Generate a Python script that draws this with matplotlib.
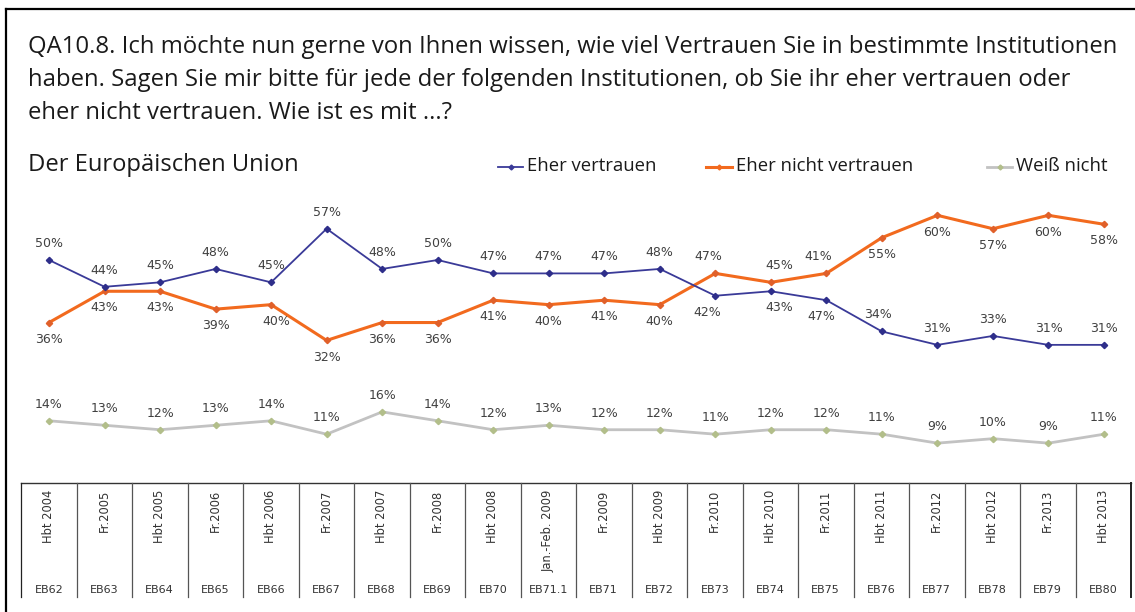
import matplotlib
matplotlib.use("Agg")
import matplotlib.pyplot as plt
from matplotlib.lines import Line2D

# ---------------------------------------------------------
# Data (Eurobarometer, trust in the EU)
# ---------------------------------------------------------
waves = ["EB62", "EB63", "EB64", "EB65", "EB66", "EB67", "EB68", "EB69", "EB70", "EB71.1",
         "EB71", "EB72", "EB73", "EB74", "EB75", "EB76", "EB77", "EB78", "EB79", "EB80"]
periods = ["Hbt 2004", "Fr.2005", "Hbt 2005", "Fr.2006", "Hbt 2006", "Fr.2007", "Hbt 2007",
           "Fr.2008", "Hbt 2008", "Jan.-Feb. 2009", "Fr.2009", "Hbt 2009", "Fr.2010",
           "Hbt 2010", "Fr.2011", "Hbt 2011", "Fr.2012", "Hbt 2012", "Fr.2013", "Hbt 2013"]

vertrauen = [50, 44, 45, 48, 45, 57, 48, 50, 47, 47, 47, 48, 42, 43, 41, 34, 31, 33, 31, 31]
nicht_vertrauen = [36, 43, 43, 39, 40, 32, 36, 36, 41, 40, 41, 40, 47, 45, 47, 55, 60, 57, 60, 58]
weiss_nicht = [14, 13, 12, 13, 14, 11, 16, 14, 12, 13, 12, 12, 11, 12, 12, 11, 9, 10, 9, 11]

# the source chart has the EB75 labels swapped between the two lines
lab_vertrauen = [f"{v}%" for v in vertrauen]
lab_nicht = [f"{v}%" for v in nicht_vertrauen]
lab_vertrauen[14], lab_nicht[14] = lab_nicht[14], lab_vertrauen[14]
lab_weiss = [f"{v}%" for v in weiss_nicht]

# label placement: +1 above, -1 below, and small x shift (points)
pos_vertrauen = [1] * 12 + [-1, -1, -1] + [1] * 5
pos_nicht = [-1] * 12 + [1, 1, 1] + [-1] * 5
dx_vertrauen = [0] * 12 + [-6, 6, -4] + [-3, 0, 0, 0, 0]
dx_nicht = [0, 0, 0, 0, 4] + [0] * 7 + [-5, 6, -6] + [0] * 5

BLUE = "#3A3A98"
ORANGE = "#F26A1E"
GREY = "#C2C2C2"
GREY_MK = "#B2BE8A"
TXT = "#404040"
FONT = "Open Sans"

W, H = 1135, 612
fig = plt.figure(figsize=(W / 100, H / 100), dpi=100)
fig.patch.set_facecolor("white")


def fx(x):
    return x / W


def fy(y):
    return 1 - y / H


# ---------------------------------------------------------
# Outer frame (left + top only visible)
# ---------------------------------------------------------
fig.add_artist(Line2D([fx(6), fx(6)], [fy(9), 0], color="black", lw=1.6, transform=fig.transFigure))
fig.add_artist(Line2D([fx(6), 1], [fy(9), fy(9)], color="black", lw=1.6, transform=fig.transFigure))

# ---------------------------------------------------------
# Title / question text
# ---------------------------------------------------------
title_lines = [
    "QA10.8. Ich möchte nun gerne von Ihnen wissen, wie viel Vertrauen Sie in bestimmte Institutionen",
    "haben. Sagen Sie mir bitte für jede der folgenden Institutionen, ob Sie ihr eher vertrauen oder",
    "eher nicht vertrauen. Wie ist es mit ...?",
]
for i, line in enumerate(title_lines):
    fig.text(fx(28), fy(47 + 33 * i), line, family=FONT, fontsize=17.2,
             color="#1a1a1a", va="center", ha="left")
fig.text(fx(28), fy(165), "Der Europäischen Union", family=FONT, fontsize=17.1,
         color="#1a1a1a", va="center", ha="left")

# legend drawn by hand
legend_items = [("Eher vertrauen", BLUE, BLUE, 498, 523, 1.3),
                ("Eher nicht vertrauen", ORANGE, ORANGE, 706, 732, 2.2),
                ("Weiß nicht", GREY, GREY_MK, 987, 1012, 2.0)]
for name, col, mk, x1, x2, lw in legend_items:
    fig.add_artist(Line2D([fx(x1), fx((x1 + x2) / 2), fx(x2)], [fy(167)] * 3, color=col, lw=lw,
                          marker="D", markersize=2.5, markevery=[1], markerfacecolor=mk,
                          markeredgecolor=mk, transform=fig.transFigure))
    fig.text(fx(x2 + 4), fy(166), name, family=FONT, fontsize=13.3, color="#1a1a1a",
             va="center", ha="left")

# ---------------------------------------------------------
# Line chart
# ---------------------------------------------------------
# y = 65% at px 193, y = 5% at px 461; x points from px 49 to 1104
ax = fig.add_axes([fx(49), fy(461), fx(1104 - 49), (461 - 193) / H])
ax.set_xlim(0, 19)
ax.set_ylim(5, 65)
ax.axis("off")

x = list(range(len(waves)))
ax.plot(x, weiss_nicht, color=GREY, lw=2.0, marker="D", markersize=3.2,
        markerfacecolor=GREY_MK, markeredgecolor=GREY_MK, clip_on=False, zorder=2)
ax.plot(x, nicht_vertrauen, color=ORANGE, lw=2.2, marker="D", markersize=3.2,
        markerfacecolor="#E0602A", markeredgecolor="#E0602A", clip_on=False, zorder=3)
ax.plot(x, vertrauen, color=BLUE, lw=1.3, marker="D", markersize=3.2,
        markerfacecolor="#2E2E8A", markeredgecolor="#2E2E8A", clip_on=False, zorder=4)

for i in x:
    ax.annotate(lab_vertrauen[i], (i, vertrauen[i]), xytext=(dx_vertrauen[i], 12 * pos_vertrauen[i]),
                textcoords="offset points", ha="center", va="center", fontsize=9, color=TXT)
    ax.annotate(lab_nicht[i], (i, nicht_vertrauen[i]), xytext=(dx_nicht[i], 12 * pos_nicht[i]),
                textcoords="offset points", ha="center", va="center", fontsize=9, color=TXT)
    ax.annotate(lab_weiss[i], (i, weiss_nicht[i]), xytext=(0, 12),
                textcoords="offset points", ha="center", va="center", fontsize=9, color=TXT)

# ---------------------------------------------------------
# Wave table under the chart
# ---------------------------------------------------------
tab = fig.add_axes([fx(21), fy(597), fx(1131 - 21), (597 - 483) / H])
tab.set_xlim(0, len(waves))
tab.set_ylim(0, 114)
tab.axis("off")
tab.plot([0, len(waves)], [114, 114], color="#333333", lw=1.0, clip_on=False)
for i in range(len(waves) + 1):
    tab.plot([i, i], [0, 114], color="#222222" if i in (0, len(waves)) else "#555555",
             lw=1.4 if i == len(waves) else 0.9, clip_on=False)
for i in range(len(waves)):
    tab.text(i + 0.5, 107, periods[i], rotation=90, ha="center", va="top",
             fontsize=8.3, color="#333333")
    tab.text(i + 0.5, 7, waves[i], ha="center", va="center", fontsize=8, color="#333333")

fig.savefig("out.png", dpi=100, facecolor="white")
